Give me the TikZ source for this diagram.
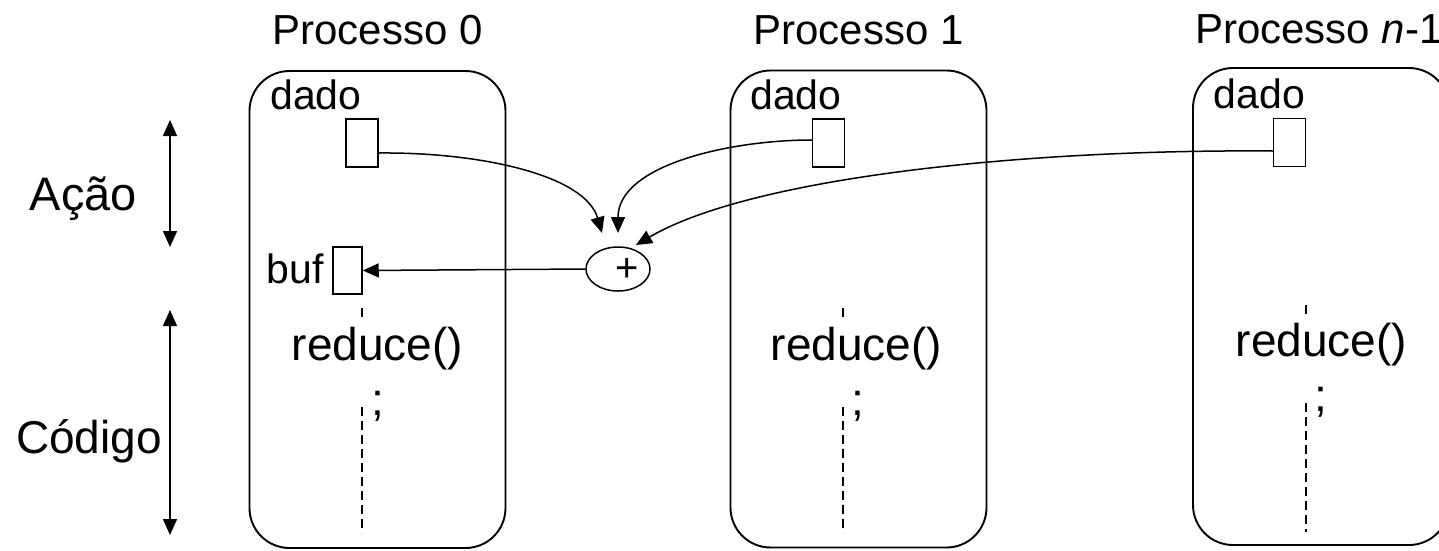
\documentclass[tikz,border=0pt]{standalone}
\usepackage{fontspec}
\setmainfont{Liberation Sans}
\usetikzlibrary{arrows.meta,shapes.geometric}
\newcommand\fsz[1]{\fontsize{#1}{#1}\selectfont}
\tikzset{
  procbox/.style={draw, line width=1.9pt, rounded corners=40pt, minimum width=256pt, minimum height=477pt, inner sep=0pt},
  databox/.style={draw, line width=1.5pt, minimum width=32pt, minimum height=48pt, inner sep=0pt},
  bufbox/.style={draw, line width=1.5pt, minimum width=29pt, minimum height=47pt, inner sep=0pt},
  opnode/.style={draw, ellipse, line width=1.5pt, minimum width=64pt, minimum height=44pt, inner sep=0pt},
  lbl/.style={inner sep=0pt, anchor=base},
  tip/.style={-{Triangle[length=16pt,width=14pt]}},
  conn/.style={tip, line width=1.5pt},
  dconn/.style={{Triangle[length=16pt,width=14pt]}-{Triangle[length=16pt,width=14pt]}, line width=1.5pt},
  vdash/.style={line width=1.5pt, dash pattern=on 9pt off 5pt},
}
\begin{document}
\begin{tikzpicture}[x=1pt,y=-1pt]
\clip (0,0) rectangle (1439,550);
\fill[white] (0,0) rectangle (1439,550);

% process boxes
\node[procbox] (p0) at (377.5,309.5) {};
\node[procbox] (p1) at (858.5,309) {};
\node[procbox] (p2) at (1321,306.5) {};

% titles
\node[lbl] (t0) at (377.5,44) {\fsz{42}Processo 0};
\node[lbl] (t1) at (858.5,44) {\fsz{42}Processo 1};
\node[lbl, anchor=base west] (t2) at (1195,43) {\fsz{42}Processo \textit{n}-1};

% dado labels
\node[lbl] (l0) at (316,109) {\fsz{41}dado};
\node[lbl] (l1) at (796,109) {\fsz{41}dado};
\node[lbl] (l2) at (1259.5,108) {\fsz{41}dado};

% data boxes
\node[databox] (d0) at (362,143) {};
\node[databox] (d1) at (828.5,143) {};
\node[databox] (d2) at (1289.5,142.5) {};

% buf
\node[lbl] (lb) at (295,283) {\fsz{41}buf};
\node[bufbox] (b0) at (347.5,270.5) {};

% reduce op
\node[opnode] (op) at (618,269) {};
\node[inner sep=0pt] (plus) at (627,270) {\fsz{40}+};

% arrow tips
\coordinate (a0) at (602,233);
\coordinate (a1) at (618,233);
\coordinate (a2) at (636,245);

\draw[conn] ([yshift=-10pt]d0.east) .. controls (480,152) and (585,175) .. (a0);
\draw[conn] ([yshift=3pt]d1.west) .. controls (730,140) and (618,165) .. (a1);
\draw[conn] ([yshift=-8.5pt]d2.west) .. controls (1020,149) and (750,178) .. (a2);
\draw[conn] (op.west) -- (b0.east);

% code text
\node[lbl] (r0) at (377.5,360) {\fsz{46}reduce()};
\node[lbl] (r1) at (856.5,360) {\fsz{46}reduce()};
\node[lbl] (r2) at (1321.5,356) {\fsz{46}reduce()};
\node[lbl] (s0) at (377.5,415) {\fsz{46};};
\node[lbl] (s1) at (857.5,415) {\fsz{46};};
\node[lbl] (s2) at (1320.5,411) {\fsz{46};};

% dashed lines
\coordinate (u0a) at (362,308); \coordinate (u0b) at (362,321);
\coordinate (v0a) at (362,407); \coordinate (v0b) at (362,533);
\coordinate (u1a) at (843,308); \coordinate (u1b) at (843,320);
\coordinate (v1a) at (843,407); \coordinate (v1b) at (843,533);
\coordinate (u2a) at (1306,305); \coordinate (u2b) at (1306,317);
\coordinate (v2a) at (1306,403); \coordinate (v2b) at (1306,532);
\draw[vdash] (u0a) -- (u0b); \draw[vdash] (v0a) -- (v0b);
\draw[vdash] (u1a) -- (u1b); \draw[vdash] (v1a) -- (v1b);
\draw[vdash] (u2a) -- (u2b); \draw[vdash] (v2a) -- (v2b);

% left labels and arrows
\node[lbl] (acao) at (83.5,210) {\fsz{47}Ação};
\node[lbl] (codigo) at (89,453) {\fsz{46}Código};
\coordinate (ha) at (170,120); \coordinate (hb) at (170,247);
\coordinate (hc) at (170,310); \coordinate (hd) at (170,535);
\draw[dconn] (ha) -- (hb);
\draw[dconn] (hc) -- (hd);
\end{tikzpicture}
\end{document}
